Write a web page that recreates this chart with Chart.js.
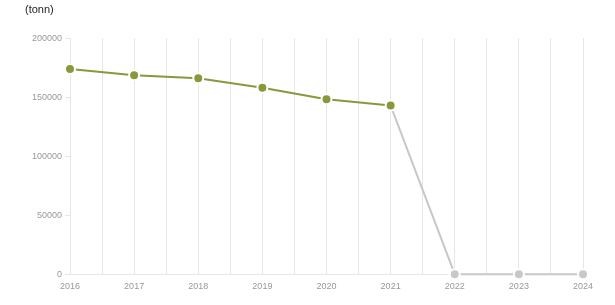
<!DOCTYPE html>
<html>
<head>
<meta charset="utf-8">
<script src="https://cdn.jsdelivr.net/npm/chart.js@4"></script>
<style>
html,body{margin:0;padding:0;background:#fff;}
#wrap{position:relative;width:615px;height:305px;}
</style>
</head>
<body>
<div id="wrap"><canvas id="c" width="615" height="305"></canvas></div>
<script>
const years = [2016, 2017, 2018, 2019, 2020, 2021, 2022, 2023, 2024];
const values = [173800, 168600, 166100, 158100, 148300, 142900, 0, 0, 0];
const unitLabel = '(tonn)';
const yTicks = [0, 50000, 100000, 150000, 200000];

const GREEN = '#8a983c';
const GREY = '#c8c8c8';
const GRID = '#e6e6e6';
const TXT = '#999999';
const lastActual = 5;

const pts = years.map((y, i) => ({x: y, y: values[i]}));

new Chart(document.getElementById('c'), {
  type: 'line',
  data: {
    datasets: [{
      data: pts,
      borderWidth: 2,
      borderColor: GREEN,
      segment: {
        borderColor: ctx => ctx.p1DataIndex > lastActual ? GREY : GREEN
      },
      pointRadius: 5,
      pointHoverRadius: 5,
      pointBorderWidth: 2,
      pointBorderColor: '#ffffff',
      pointBackgroundColor: values.map((v, i) => i > lastActual ? GREY : GREEN),
      tension: 0,
      fill: false,
      clip: false
    }]
  },
  options: {
    responsive: false,
    animation: false,
    devicePixelRatio: 1,
    layout: {padding: {left: 25, right: 32, top: 0, bottom: 6}},
    plugins: {
      legend: {display: false},
      tooltip: {enabled: false},
      title: {
        display: true,
        text: unitLabel,
        align: 'start',
        color: '#222',
        font: {family: 'Liberation Sans, Arial, sans-serif', size: 11, weight: 'normal'},
        padding: {top: 3, bottom: 22}
      }
    },
    scales: {
      x: {
        type: 'linear',
        min: years[0],
        max: years[years.length - 1],
        afterBuildTicks: axis => {
          const t = [];
          for (let v = years[0]; v <= years[years.length - 1] + 1e-9; v += 0.5) t.push({value: v});
          axis.ticks = t;
        },
        ticks: {
          autoSkip: false,
          maxRotation: 0,
          color: TXT,
          padding: 7,
          font: {family: 'Liberation Sans, Arial, sans-serif', size: 9},
          callback: v => Number.isInteger(v) ? String(v) : ''
        },
        grid: {color: GRID, lineWidth: 1, drawTicks: false},
        border: {color: GRID}
      },
      y: {
        min: 0,
        max: 200000,
        afterBuildTicks: axis => { axis.ticks = yTicks.map(v => ({value: v})); },
        afterFit: axis => { axis.width = 45; },
        ticks: {
          color: TXT,
          padding: 3,
          font: {family: 'Liberation Sans, Arial, sans-serif', size: 9},
          callback: v => String(v)
        },
        grid: {drawOnChartArea: false, drawTicks: true, tickLength: 5, color: GRID},
        border: {color: GRID}
      }
    }
  }
});
</script>
</body>
</html>
